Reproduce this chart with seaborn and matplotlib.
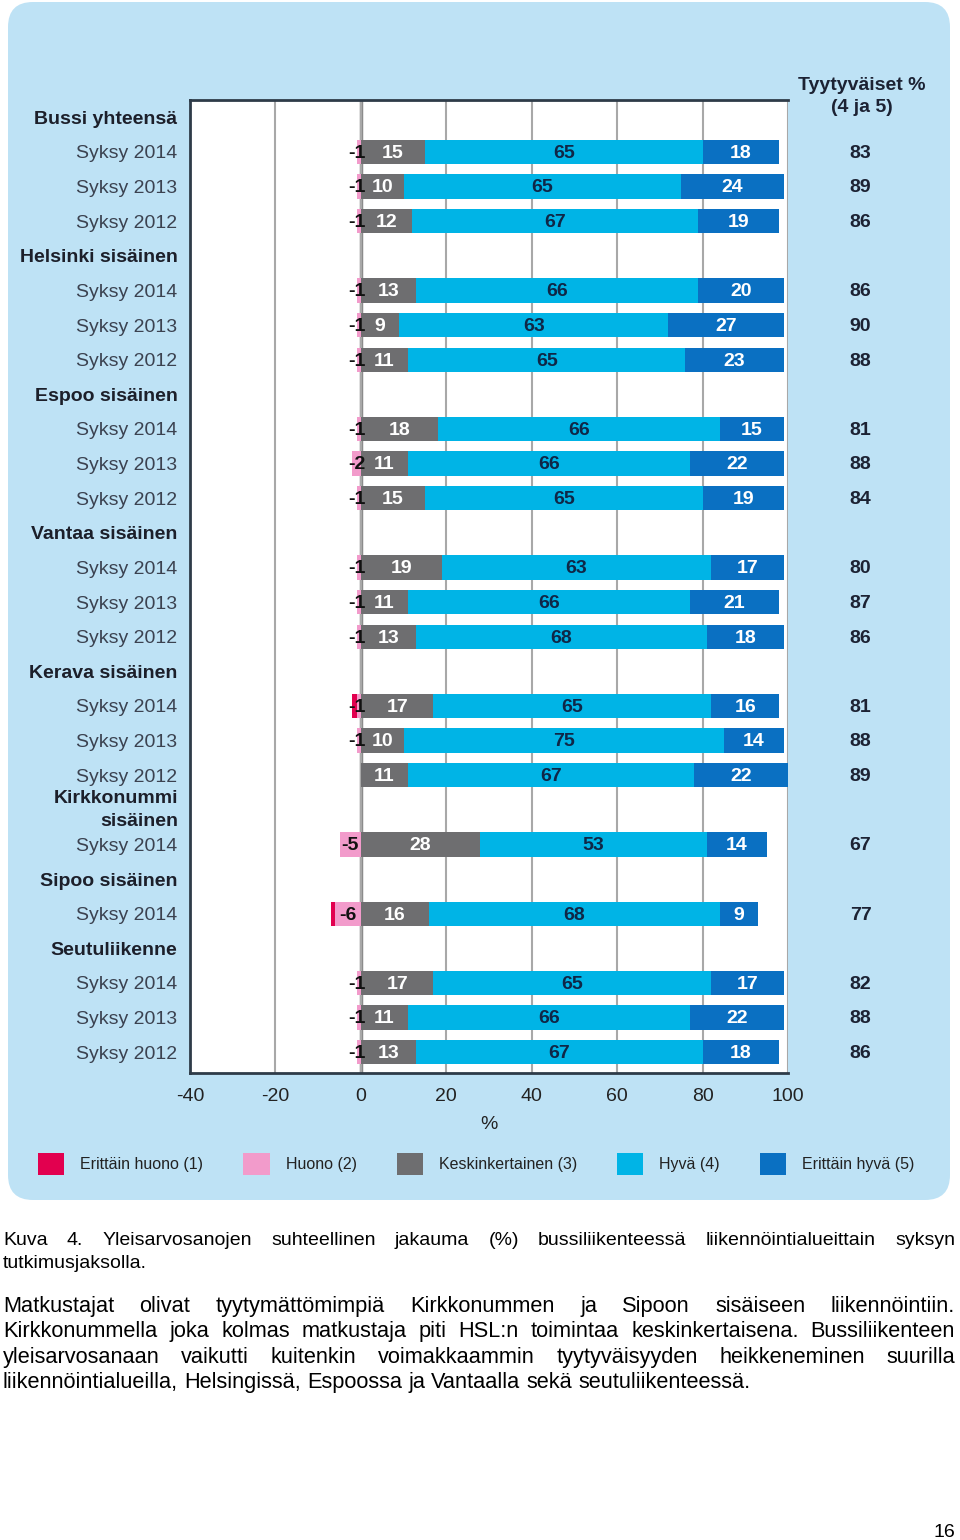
import pandas as pd
import seaborn as sns
import matplotlib.pyplot as plt
from matplotlib.patches import FancyBboxPatch, Patch

# --- data -------------------------------------------------------------
group_names = ["Bussi yhteensä", "Helsinki sisäinen", "Espoo sisäinen", "Vantaa sisäinen",
               "Kerava sisäinen", "Kirkkonummi\nsisäinen", "Sipoo sisäinen", "Seutuliikenne"]
bar_group = [0, 0, 0, 1, 1, 1, 2, 2, 2, 3, 3, 3, 4, 4, 4, 5, 6, 7, 7, 7]
bar_period = ["Syksy 2014", "Syksy 2013", "Syksy 2012"] * 5 + ["Syksy 2014", "Syksy 2014"] + \
             ["Syksy 2014", "Syksy 2013", "Syksy 2012"]
erittain_huono = [0, 0, 0, 0, 0, 0, 0, 0, 0, 0, 0, 0, 1, 0, 0, 0, 1, 0, 0, 0]
huono = [1, 1, 1, 1, 1, 1, 1, 2, 1, 1, 1, 1, 1, 1, 0, 5, 6, 1, 1, 1]
keskinkertainen = [15, 10, 12, 13, 9, 11, 18, 11, 15, 19, 11, 13, 17, 10, 11, 28, 16, 17, 11, 13]
hyva = [65, 65, 67, 66, 63, 65, 66, 66, 65, 63, 66, 68, 65, 75, 67, 53, 68, 65, 66, 67]
erittain_hyva = [18, 24, 19, 20, 27, 23, 15, 22, 19, 17, 21, 18, 16, 14, 22, 14, 9, 17, 22, 18]
tyytyvaiset = [83, 89, 86, 86, 90, 88, 81, 88, 84, 80, 87, 86, 81, 88, 89, 67, 77, 82, 88, 86]

legend_labels = ["Erittäin huono (1)", "Huono (2)", "Keskinkertainen (3)", "Hyvä (4)", "Erittäin hyvä (5)"]
colors = ["#E2004F", "#F29BCB", "#6E6E70", "#00B4E6", "#0A70C2"]

caption_lines = [
    "Kuva 4. Yleisarvosanojen suhteellinen jakauma (%) bussiliikenteessä liikennöintialueittain syksyn",
    "tutkimusjaksolla.",
]
body_lines = [
    "Matkustajat olivat tyytymättömimpiä Kirkkonummen ja Sipoon sisäiseen liikennöintiin.",
    "Kirkkonummella joka kolmas matkustaja piti HSL:n toimintaa keskinkertaisena. Bussiliikenteen",
    "yleisarvosanaan vaikutti kuitenkin voimakkaammin tyytyväisyyden heikkeneminen suurilla",
    "liikennöintialueilla, Helsingissä, Espoossa ja Vantaalla sekä seutuliikenteessä.",
]

# --- row layout: header row per group followed by its bars ------------
row_labels, row_is_header, bar_rows = [], [], []
for g, name in enumerate(group_names):
    row_labels.append(name)
    row_is_header.append(True)
    for i, bg in enumerate(bar_group):
        if bg == g:
            bar_rows.append(len(row_labels))
            row_labels.append(bar_period[i])
            row_is_header.append(False)
row_keys = [f"r{i}" for i in range(len(row_labels))]

df = pd.DataFrame({
    "row": [row_keys[r] for r in bar_rows],
    "pos": bar_rows,
    "eh": erittain_huono, "h": huono, "k": keskinkertainen,
    "hy": hyva, "ehy": erittain_hyva, "tyyt": tyytyvaiset,
})
df["neg_all"] = -(df["eh"] + df["h"])
df["neg_h"] = -df["h"]
df["c3"] = df["k"]
df["c4"] = df["k"] + df["hy"]
df["c5"] = df["k"] + df["hy"] + df["ehy"]

sns.set_theme(style="white")
plt.rcParams["font.family"] = ["Liberation Sans", "DejaVu Sans"]

fig = plt.figure(figsize=(9.6, 15.4), dpi=100)
panel = FancyBboxPatch((0.08, 3.40), 9.42, 11.98, boxstyle="round,pad=0,rounding_size=0.25",
                       transform=fig.dpi_scale_trans, facecolor="#BEE2F5", edgecolor="none", zorder=0)
fig.add_artist(panel)

ax = fig.add_axes([190 / 960, 467 / 1540, 598 / 960, 973 / 1540])
ax.set_facecolor("white")

common = dict(data=df, y="row", order=row_keys, orient="h", width=0.7,
              saturation=1, errorbar=None, linewidth=0, ax=ax)
sns.barplot(x="c5", color=colors[4], **common)
sns.barplot(x="c4", color=colors[3], **common)
sns.barplot(x="c3", color=colors[2], **common)
sns.barplot(x="neg_all", color=colors[0], **common)
sns.barplot(x="neg_h", color=colors[1], **common)

ax.set_xlim(-40, 100)
ax.set_ylim(len(row_keys) - 0.4, -0.5)
ax.set_xticks(range(-40, 101, 20))
ax.set_xticklabels([str(v) for v in range(-40, 101, 20)], fontsize=14, color="#222222")
ax.tick_params(axis="x", direction="inout", length=9, width=1.5, color="#333333", pad=6)
ax.grid(axis="x", color="#A8A8A8", linewidth=1.5)
ax.set_axisbelow(True)
ax.axvline(0, color="#8A8A8A", linewidth=2.5, zorder=0.5)
for side in ["left", "top", "bottom"]:
    ax.spines[side].set_color("#2E3B48")
    ax.spines[side].set_linewidth(2)
ax.spines["right"].set_visible(False)

# row labels; multi-line header drawn separately for its wider line gap
ax.set_yticks(range(len(row_keys)))
ax.set_yticklabels(["" if "\n" in s else s for s in row_labels], fontsize=14)
ax.tick_params(axis="y", length=0, pad=9)
for lab, head in zip(ax.get_yticklabels(), row_is_header):
    lab.set_fontweight("bold" if head else "normal")
    lab.set_color("#1C1F2A" if head else "#3B4250")
for i, s in enumerate(row_labels):
    if "\n" in s:
        ax.text(-0.02, i, s, transform=ax.get_yaxis_transform(), ha="right", va="center",
                fontsize=14, fontweight="bold", color="#1C1F2A", linespacing=1.45)
ax.set_ylabel("")
ax.set_xlabel("%", fontsize=14, color="#222222", labelpad=8)

lbl = dict(fontsize=14, fontweight="bold", va="center", ha="center")
for _, r in df.iterrows():
    y = r["pos"] + 0.04
    if r["h"] > 0:
        ax.text(-max(r["h"], 2) / 2, y, f"-{r['h']}", color="#111111", **lbl)
    ax.text(r["k"] / 2, y, str(r["k"]), color="white", **lbl)
    ax.text(r["k"] + r["hy"] / 2, y, str(r["hy"]), color="#0F2747", **lbl)
    ax.text(r["c4"] + r["ehy"] / 2, y, str(r["ehy"]), color="white", **lbl)
    ax.text(117, y, str(r["tyyt"]), color="#1C2233", clip_on=False, **lbl)
ax.text(117.3, -0.6, "Tyytyväiset %\n(4 ja 5)", color="#1C2233", clip_on=False,
        linespacing=1.45, **lbl)

handles = [Patch(facecolor=c, edgecolor="none") for c in colors]
fig.legend(handles, legend_labels, loc="center left", bbox_to_anchor=(38 / 960, 1 - 1164 / 1540),
           ncol=5, frameon=False, fontsize=11.5, handlelength=1.65, handleheight=1.65,
           handletextpad=1.0, columnspacing=2.5, borderpad=0, borderaxespad=0,
           labelcolor="#222222")

# --- justified text below the chart ------------------------------------
renderer = fig.canvas.get_renderer()


def put_line(line, base_px, justify, size):
    x0, x1 = 3, 955
    words = line.split()
    texts = [fig.text(0, 0, w, fontsize=size, color="black", va="baseline") for w in words]
    widths = [t.get_window_extent(renderer).width for t in texts]
    if justify and len(words) > 1:
        gap = (x1 - x0 - sum(widths)) / (len(words) - 1)
    else:
        gap = size * 100 / 72 * 0.278
    x = x0
    for t, w in zip(texts, widths):
        t.set_position((x / 960, 1 - base_px / 1540))
        x += w + gap


put_line(caption_lines[0], 1245, True, 14)
put_line(caption_lines[1], 1268, False, 14)
for i, line in enumerate(body_lines):
    put_line(line, 1312 + i * 25.3, i < len(body_lines) - 1, 15.7)
fig.text(955 / 960, 1 - 1537 / 1540, "16", fontsize=14, ha="right", va="baseline", color="black")

fig.savefig("out.png", dpi=100)
plt.close(fig)
